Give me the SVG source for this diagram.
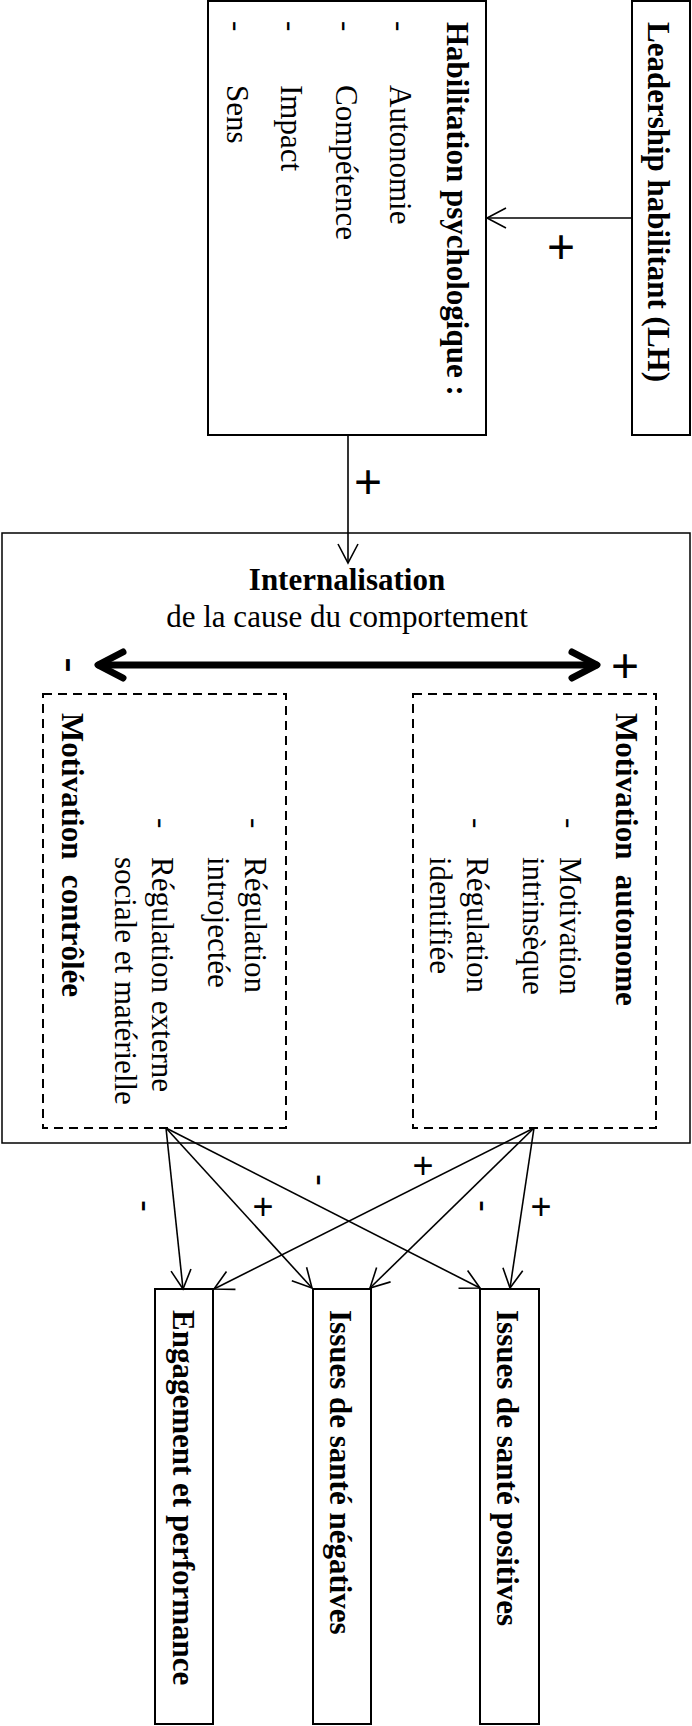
<svg xmlns="http://www.w3.org/2000/svg" width="692" height="1726" viewBox="0 0 692 1726">
  <style>
    .box { fill: #fff; stroke: #000; stroke-width: 2; }
    .outer { fill: none; stroke: #000; stroke-width: 1.5; }
    .dash { fill: none; stroke: #000; stroke-width: 2; stroke-dasharray: 9 6; }
    .t { font-family: "Liberation Serif", "Times New Roman", serif; font-size: 31px; fill: #000; }
    .b { font-weight: bold; }
    .sign { font-family: "Liberation Sans", Arial, sans-serif; fill: #000; text-anchor: middle; }
    .big { font-size: 48px; }
    .small { font-size: 36px; }
    .conn { fill: none; stroke: #000; stroke-width: 1.6; }
    .thick { fill: none; stroke: #000; stroke-width: 7; stroke-linecap: round; stroke-linejoin: round; }
  </style>
  <defs>
    <marker id="open" viewBox="-24 -14 28 28" markerWidth="28" markerHeight="28" refX="0" refY="0" orient="auto" markerUnits="userSpaceOnUse">
      <path d="M-19,-10 L0,0 L-19,10" fill="none" stroke="#000" stroke-width="1.6"/>
    </marker>
  </defs>

  <rect x="0" y="0" width="692" height="1726" fill="#fff"/>

  <!-- Leadership habilitant -->
  <g id="leadership">
    <rect class="box" x="632" y="1" width="58" height="434"/>
    <g transform="rotate(90)">
      <text class="t b" x="22" y="-648">Leadership habilitant (LH)</text>
    </g>
  </g>

  <!-- Habilitation psychologique -->
  <g id="habilitation">
    <rect class="box" x="208" y="1" width="278" height="434"/>
    <g transform="rotate(90)">
      <text class="t b" x="22" y="-447">Habilitation psychologique :</text>
      <text class="t" x="21" y="-390">-</text>
      <text class="t" x="85" y="-390">Autonomie</text>
      <text class="t" x="21" y="-336">-</text>
      <text class="t" x="85" y="-336">Compétence</text>
      <text class="t" x="21" y="-281">-</text>
      <text class="t" x="85" y="-281">Impact</text>
      <text class="t" x="21" y="-227">-</text>
      <text class="t" x="85" y="-227">Sens</text>
    </g>
  </g>

  <!-- Internalisation de la cause du comportement -->
  <g id="internalisation">
    <rect class="outer" x="2" y="533" width="688" height="610"/>
    <text class="t b" x="347" y="590" text-anchor="middle">Internalisation</text>
    <text class="t" x="347" y="627" text-anchor="middle">de la cause du comportement</text>
    <line class="thick" x1="99" y1="665" x2="596" y2="665"/>
    <polyline class="thick" points="123,652 98,665 123,678"/>
    <polyline class="thick" points="572,652 597,665 572,678"/>
    <text class="sign big" transform="translate(67,665) rotate(90)" y="12.4">-</text>
    <text class="sign big" x="625" y="682">+</text>
  </g>

  <!-- Motivation autonome -->
  <g id="motivation-autonome">
    <rect class="dash" x="413" y="694" width="243" height="434"/>
    <g transform="rotate(90)">
      <text class="t b" x="713" y="-616" xml:space="preserve">Motivation  autonome</text>
      <text class="t" x="818" y="-560">-</text>
      <text class="t" x="857" y="-560">Motivation</text>
      <text class="t" x="857" y="-523">intrinsèque</text>
      <text class="t" x="818" y="-467">-</text>
      <text class="t" x="857" y="-467">Régulation</text>
      <text class="t" x="857" y="-430">identifiée</text>
    </g>
  </g>

  <!-- Motivation contrôlée -->
  <g id="motivation-controlee">
    <rect class="dash" x="43" y="694" width="243" height="434"/>
    <g transform="rotate(90)">
      <text class="t" x="818" y="-245">-</text>
      <text class="t" x="857" y="-245">Régulation</text>
      <text class="t" x="857" y="-208">introjectée</text>
      <text class="t" x="818" y="-152">-</text>
      <text class="t" x="857" y="-152">Régulation externe</text>
      <text class="t" x="857" y="-115">sociale et matérielle</text>
      <text class="t b" x="713" y="-62" xml:space="preserve">Motivation  contrôlée</text>
    </g>
  </g>

  <!-- Outcomes -->
  <g id="engagement">
    <rect class="box" x="155" y="1289" width="58" height="435"/>
    <text class="t b" transform="rotate(90)" x="1310" y="-173">Engagement et performance</text>
  </g>
  <g id="sante-negative">
    <rect class="box" x="313" y="1289" width="58" height="435"/>
    <text class="t b" transform="rotate(90)" x="1310" y="-330">Issues de santé négatives</text>
  </g>
  <g id="sante-positive">
    <rect class="box" x="480" y="1289" width="59" height="435"/>
    <text class="t b" transform="rotate(90)" x="1310" y="-497">Issues de santé positives</text>
  </g>

  <!-- Connectors and their signs -->
  <g id="connectors">
    <line class="conn" x1="632" y1="218" x2="487" y2="218" marker-end="url(#open)"/>
    <line class="conn" x1="348" y1="435" x2="348" y2="563" marker-end="url(#open)"/>

    <line class="conn" x1="166" y1="1128" x2="183" y2="1289" marker-end="url(#open)"/>
    <line class="conn" x1="166" y1="1128" x2="312" y2="1288" marker-end="url(#open)"/>
    <line class="conn" x1="166" y1="1128" x2="480" y2="1288" marker-end="url(#open)"/>
    <line class="conn" x1="534" y1="1128" x2="214" y2="1289" marker-end="url(#open)"/>
    <line class="conn" x1="534" y1="1128" x2="370" y2="1288" marker-end="url(#open)"/>
    <line class="conn" x1="534" y1="1128" x2="510" y2="1288" marker-end="url(#open)"/>

    <text class="sign big" x="561" y="263">+</text>
    <text class="sign big" x="368" y="498">+</text>

    <text class="sign small" transform="translate(143,1206) rotate(90)" y="9.3">-</text>
    <text class="sign small" x="263" y="1219">+</text>
    <text class="sign small" transform="translate(318,1180) rotate(90)" y="9.3">-</text>
    <text class="sign small" x="423" y="1178">+</text>
    <text class="sign small" transform="translate(481,1206) rotate(90)" y="9.3">-</text>
    <text class="sign small" x="541" y="1219">+</text>
  </g>
</svg>
